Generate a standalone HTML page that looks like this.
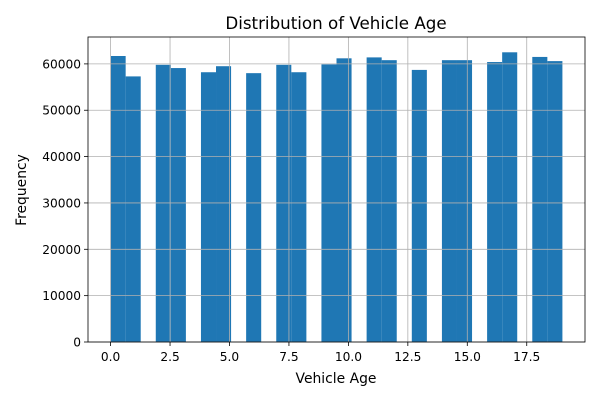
<!DOCTYPE html>
<html><head><meta charset="utf-8"><style>
body{margin:0;background:#fff;}
svg{font-family:"DejaVu Sans","Liberation Sans",sans-serif;}
</style></head><body>
<svg id="chart" width="600" height="400">
<rect width="600" height="400" fill="#fff"/>
<text x="336" y="29" text-anchor="middle" font-size="16.7">Distribution of Vehicle Age</text>
<text x="336" y="383" text-anchor="middle" font-size="13.9">Vehicle Age</text>
<text transform="translate(26,190) rotate(-90)" text-anchor="middle" font-size="13.9">Frequency</text>
<g id="bars"></g><g id="grid"></g><g id="axes"></g>
</svg>
<script>
const ages = [0,1,2,3,4,5,6,7,8,9,10,11,12,13,14,15,16,17,18,19];
const counts = [61700,57300,59800,59100,58200,59500,58000,59800,58200,59900,61200,61400,60800,58700,60800,60800,60400,62500,61500,60600];
const xTicks = [0,2.5,5,7.5,10,12.5,15,17.5];
const xTickLabels = ["0.0","2.5","5.0","7.5","10.0","12.5","15.0","17.5"];
const yTicks = [0,10000,20000,30000,40000,50000,60000];
const nBins = 30;

const L=88,R=585,T=37,B=342;
const xMin=-0.95,xMax=19.95,yMax=65800;
const sx=v=>L+(v-xMin)/(xMax-xMin)*(R-L);
const sy=v=>B-v/yMax*(B-T);
const NS="http://www.w3.org/2000/svg";
function mk(tag,attrs,parent){const e=document.createElementNS(NS,tag);for(const k in attrs)e.setAttribute(k,attrs[k]);parent.appendChild(e);return e;}

const lo=Math.min(...ages),hi=Math.max(...ages),w=(hi-lo)/nBins;
const bins=new Array(nBins).fill(0);
ages.forEach((a,i)=>{let b=Math.floor((a-lo)/w+1e-9);if(b>=nBins)b=nBins-1;bins[b]+=counts[i];});
const gb=document.getElementById('bars');
bins.forEach((c,b)=>{
  if(!c)return;
  const x0=sx(lo+b*w),x1=sx(lo+(b+1)*w);
  const r=mk('rect',{x:x0,y:sy(c),width:x1-x0,height:B-sy(c),fill:'#1f77b4'},gb);
  
  
});
const gg=document.getElementById('grid'),ga=document.getElementById('axes');
xTicks.forEach((t,i)=>{
  const x=sx(t);
  mk('line',{x1:x,x2:x,y1:T,y2:B,stroke:'#b0b0b0','stroke-width':0.8},gg);
  mk('line',{x1:x,x2:x,y1:B,y2:B+4,stroke:'#000','stroke-width':0.8},ga);
  const tx=mk('text',{x:x,y:B+19,'text-anchor':'middle','font-size':12.2},ga);
  tx.textContent=xTickLabels[i];
  
  
});
yTicks.forEach(t=>{
  const y=sy(t);
  mk('line',{x1:L,x2:R,y1:y,y2:y,stroke:'#b0b0b0','stroke-width':0.8},gg);
  mk('line',{x1:L-4,x2:L,y1:y,y2:y,stroke:'#000','stroke-width':0.8},ga);
  const tx=mk('text',{x:L-7,y:y+4.5,'text-anchor':'end','font-size':12.2},ga);
  tx.textContent=String(t);
  
  
});
const fr=mk('rect',{x:L,y:T,width:R-L,height:B-T,fill:'none',stroke:'#000','stroke-width':0.8},ga);


</script>
</body></html>
